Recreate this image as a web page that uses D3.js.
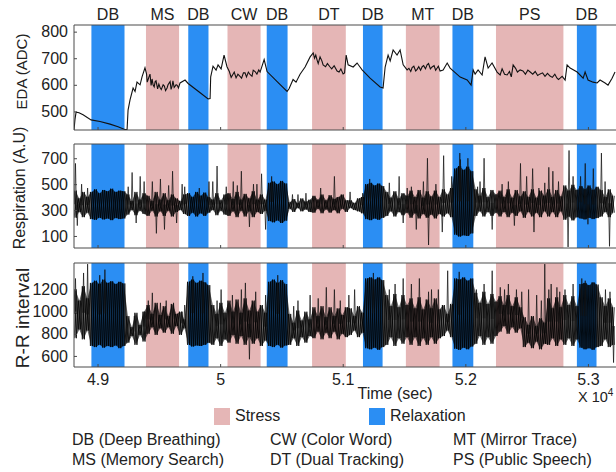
<!DOCTYPE html>
<html><head><meta charset="utf-8">
<script src="https://cdn.jsdelivr.net/npm/d3@7"></script>
<style>
html,body{margin:0;padding:0;background:#fff;}
svg{display:block;font-family:"Liberation Sans",Arial,Helvetica,sans-serif;}
</style></head>
<body><svg id="c" width="616" height="472"></svg>
<script>
// ---- data ----
const bandLabels = ["DB","MS","DB","CW","DB","DT","DB","MT","DB","PS","DB"];
const bandStart  = [48950,49395,49740,50060,50380,50750,51165,51515,51895,52250,52910];
const bandEnd    = [49220,49665,49905,50330,50550,51025,51325,51790,52065,52800,53070];
const bandType   = ["R","S","R","S","R","S","R","S","R","S","R"];

const xTicks = [49000,50000,51000,52000,53000];

const edaTicks = [500,600,700,800];
const respTicks = [100,300,500,700];
const rrTicks = [600,800,1000,1200];

const edaTime = [48808,48816,48825,48849,48882,48947,49020,49102,49167,49222,
49241,49249,49265,49290,49306,49322,49347,49363,49387,49412,
49428,49453,49477,49510,49535,49567,49592,49608,49641,49673,
49714,49739,49837,49902,49918,49923,49942,49967,49983,50008,
50032,50056,50105,50162,50203,50245,50285,50326,50359,50383,
50465,50546,50562,50595,50619,50652,50693,50734,50759,50791,
50815,50840,50897,50954,51003,51028,51044,51085,51117,51141,
51158,51223,51305,51329,51346,51370,51387,51411,51443,51468,
51493,51525,51566,51607,51648,51688,51729,51770,51794,51819,
51852,51876,51958,52015,52047,52064,52080,52104,52137,52161,
52186,52218,52259,52284,52341,52390,52447,52529,52610,52691,
52748,52773,52814,52830,52855,52912,52961,52977,53001,53042,
53075,53099,53140,53164,53197,53221];
const edaValue = [430,470,497,495,487,468,462,452,442,432,
432,505,543,588,575,610,600,630,664,619,
640,600,615,590,600,588,612,595,600,607,
618,605,570,547,548,630,670,655,675,660,
712,668,640,632,645,638,650,648,695,650,
612,575,585,620,610,640,667,705,720,693,
705,675,667,652,641,712,675,667,682,667,
656,625,592,588,667,712,690,731,712,731,
675,656,665,658,668,675,667,663,652,656,
682,663,629,618,599,656,640,656,637,705,
663,682,648,637,637,675,656,648,641,633,
625,625,618,675,663,648,625,648,618,610,
607,618,607,599,625,648];
const edaDetailTime = [49400,49405,49418,49437,49445,49462,49470,49490,49500,49520,49545,49555,49575,49600,49615,49625,49650,49660,
50075,50090,50115,50130,50145,50175,50190,50215,50230,50260,50270,50300,50315,
50770,50780,50800,50830,50860,50875,50910,50930,50970,50985,51015,
51540,51555,51580,51595,51620,51635,51660,51675,51700,51715,51745,51758,51780,
52300,52320,52360,52375,52410,52425,52470,52490,52510,52550,52570,52590,52630,52650,52670,52710,52730,52760,52790];
const edaDetailValue = [640,610,628,598,622,592,612,585,603,582,595,578,600,583,615,590,598,588,
650,628,648,626,640,625,645,630,648,632,655,640,656,
700,712,680,690,668,680,660,672,648,660,645,
662,650,670,652,668,655,672,660,680,660,672,655,670,
660,640,650,630,662,648,652,640,655,640,650,635,645,632,643,628,640,620,632];

// dense signals: per-bin upper / lower edge of the dense core (bins of binStep s from binStart)
const binStart = 48810, binStep = 33;
const respCoreHi = [450,390,440,400,
440,460,430,455,445,465,440,450,445,
420,370,440,380,430,
410,370,440,380,430,375,420,390,
370,420,
430,400,440,410,435,400,
380,430,375,420,
430,385,440,380,425,390,445,380,
420,380,
510,520,500,525,505,
360,385,355,390,365,380,
410,380,420,375,415,385,400,420,375,
375,355,390,400,
500,510,490,505,485,
440,395,445,390,430,410,
450,400,455,395,445,405,450,400,
460,420,470,
620,640,610,635,600,
460,410,470,400,455,420,
450,400,460,395,455,405,445,400,460,395,450,410,460,400,455,405,
490,450,495,455,
485,460,490,455,480,
455,400,460,410];
const respCoreLo = [240,285,245,280,
230,225,240,228,235,222,238,230,235,
265,300,260,295,270,
255,295,250,290,255,295,250,285,
300,270,
255,280,250,275,255,280,
300,260,295,265,
255,290,245,295,250,290,245,285,
270,295,
215,205,220,200,218,
310,285,315,290,305,285,
280,310,275,305,280,300,275,310,285,
315,300,290,275,
230,222,235,225,240,
255,290,250,285,260,280,
240,275,235,270,240,265,235,270,
250,275,245,
110,95,105,100,120,
255,290,250,285,255,280,
250,285,245,280,255,290,240,285,250,280,245,290,250,285,245,290,
225,250,220,245,
235,228,240,230,238,
250,285,245,280];
// isolated spikes beyond the core
const respSpikeTime = [48820,48835,48919,49282,49315,49348,49447,49480,49513,49546,49612,49645,49711,49909,49975,
50107,50173,50239,50272,50338,50371,50635,50932,51163,51460,51493,51526,51658,51691,51700,
51812,51823,51889,51955,52021,52120,52153,52219,52351,52450,52549,52560,52648,52681,52714,
52838,52846,52879,52978,53044,53110,53176,
48870,49250,49380,49580,49690,49830,49940,50050,50140,50300,50420,50590,50700,50820,51060,
51220,51380,51560,51600,51760,51960,52100,52300,52400,52500,52600,52760,52940,53000,53140];
const respSpikeValue = [660,180,470,590,200,560,520,120,540,150,600,200,480,520,640,
520,600,170,500,580,150,420,560,430,560,200,470,520,700,30,
130,720,560,740,700,520,700,150,520,660,620,130,510,630,600,
15,760,560,660,620,740,20,
500,480,520,490,500,470,520,480,490,500,560,420,430,470,440,
540,510,480,150,500,690,480,500,180,560,470,520,560,190,520];

const rrCoreHi = [1200,1100,1230,1120,
1260,1280,1250,1290,1260,1275,1250,1270,1255,
960,860,990,880,1000,
1060,980,1080,970,1050,960,1070,980,
1000,930,
1270,1290,1260,1280,1265,1240,
1060,980,1080,990,
1100,1000,1110,990,1120,1010,1100,1000,
1060,990,
1270,1290,1260,1285,1250,
980,900,1010,920,1000,930,
1040,960,1050,950,1040,960,1030,970,1040,
1030,960,1050,990,
1300,1310,1290,1310,1285,
1150,1050,1160,1040,1150,1060,
1120,1030,1130,1020,1110,1030,1120,1020,
1060,980,1070,
1300,1290,1310,1280,1300,
1170,1080,1180,1070,1160,1090,
1140,1060,1150,1050,1130,1040,950,880,960,870,940,900,1120,1030,1130,1040,
1150,1060,1140,1050,
1250,1260,1240,1265,1245,
1130,1050,1120,1040];
const rrCoreLo = [760,840,750,830,
690,680,700,675,690,680,695,670,690,
720,780,700,790,730,
800,860,790,850,810,860,800,870,
790,850,
700,685,695,690,700,720,
700,760,690,750,
720,790,710,780,700,770,710,760,
690,740,
690,680,700,675,695,
700,760,690,770,720,780,
760,820,750,810,760,820,750,800,770,
790,830,770,810,
670,660,675,655,680,
700,770,690,760,710,770,
700,770,690,760,700,770,710,760,
780,830,770,
665,655,675,660,685,
710,780,700,770,710,780,
820,870,800,860,810,850,680,720,670,730,660,710,700,760,690,750,
700,760,690,750,
675,660,670,655,680,
690,750,680,700];
const rrSpikeTime = [48820,48886,48919,49018,49381,49414,49447,49513,49711,49777,49975,50008,50173,50206,50239,
50371,50635,50734,50866,50932,51097,51427,51493,51625,51724,51856,52153,52219,52285,52351,
52417,52516,52582,52648,52681,52747,52813,52879,52978,53143,53209,
49060,49300,49560,49620,49690,49860,50100,50290,50470,50600,50800,50980,51050,51250,
51380,51560,51700,51780,51950,52090,52320,52460,52620,52700,52770,52950,53180];
const rrSpikeValue = [1300,1350,1430,1330,1000,1100,1170,1080,1060,1320,1100,1200,1200,1260,570,
1150,1100,1150,1220,1200,1200,1250,1300,1300,1200,1370,1250,1370,1220,1250,
1200,1200,1150,1430,1200,1220,1200,1250,1280,1200,540,
1380,960,1100,1080,1000,1350,1150,1180,1330,1050,1120,1100,1150,1350,
1200,1250,1180,1200,1360,1200,1200,1180,1100,1250,1180,1300,1180];

const legendRow1 = ["DB (Deep Breathing)","CW (Color Word)","MT (Mirror Trace)"];
const legendRow2 = ["MS (Memory Search)","DT (Dual Tracking)","PS (Public Speech)"];

// ---- drawing ----
const svg = d3.select("#c");
const PINK = "#e5b6b6", BLUE = "#2b8ef3", INK = "#222", FRAME = "#4a4a4a";
const FONT = '"Liberation Sans",Arial,sans-serif';
const x = d3.scaleLinear().domain([48808, 53229]).range([74, 616]);

const panels = [
  {top:25, bottom:130, domain:[430,825], ticks:edaTicks, label:"EDA (ADC)", lsize:15, lx:27, ly:71.5},
  {top:144, bottom:248, domain:[7,810], ticks:respTicks, label:"Respiration (A.U)", lsize:16, lx:25, ly:188},
  {top:263, bottom:367, domain:[500,1440], ticks:rrTicks, label:"R-R interval", lsize:19, lx:29, ly:318}
];
const bands = bandLabels.map((l,i)=>({label:l, s:bandStart[i], e:bandEnd[i], t:bandType[i]}));

panels.forEach((p,pi)=>{
  p.y = d3.scaleLinear().domain(p.domain).range([p.bottom, p.top]);
  const g = svg.append("g");
  const cid = "clip"+pi;
  svg.append("clipPath").attr("id",cid).append("rect")
    .attr("x",74).attr("y",p.top).attr("width",616-74).attr("height",p.bottom-p.top);
  g.selectAll("rect.band").data(bands).join("rect")
    .attr("x",d=>x(d.s)).attr("width",d=>x(d.e)-x(d.s))
    .attr("y",p.top).attr("height",p.bottom-p.top)
    .attr("fill",d=>d.t==="S"?PINK:BLUE);
  p.g = g.append("g").attr("clip-path",`url(#${cid})`);
});

// EDA line
const edaPts = edaTime.map((t,i)=>[t, edaValue[i]])
  .concat(edaDetailTime.map((t,i)=>[t, edaDetailValue[i]]))
  .sort((a,b)=>a[0]-b[0]);
panels[0].g.append("path")
  .attr("d", d3.line().x(d=>x(d[0])).y(d=>panels[0].y(d[1]))(edaPts))
  .attr("fill","none").attr("stroke","#111").attr("stroke-width",1.1);

// dense oscillating signal: core band + interleaved zig-zags + isolated spikes
function dense(p, hi, lo, spT, spV){
  const bins = hi.map((h,i)=>({t: binStart + i*binStep, hi:h, lo:lo[i]}));
  p.g.append("path")
    .attr("d", d3.area().x(d=>x(d.t + binStep/4)).y0(d=>p.y(d.lo)).y1(d=>p.y(d.hi))(bins))
    .attr("fill","#000").attr("fill-opacity",0.6);
  const a = [], b = [];
  bins.forEach(d=>{
    a.push([d.t, d.hi]); a.push([d.t + binStep/2, d.lo]);
    b.push([d.t, d.lo]); b.push([d.t + binStep/2, d.hi]);
  });
  const ln = d3.line().x(d=>x(d[0])).y(d=>p.y(d[1]));
  [a,b].forEach((pts,k)=>{
    p.g.append("path").attr("d", ln(pts))
      .attr("fill","none").attr("stroke","#000").attr("stroke-width",0.9)
      .attr("stroke-opacity",k===0?0.9:0.8);
  });
  const spikes = spT.map((t,i)=>{
    const bi = Math.max(0, Math.min(bins.length-1, Math.floor((t-binStart)/binStep)));
    const base = (bins[bi].hi + bins[bi].lo)/2;
    return [[t-7, base],[t, spV[i]],[t+7, base]];
  });
  p.g.selectAll("path.spike").data(spikes).join("path").attr("class","spike")
    .attr("d", d=>ln(d)).attr("fill","none").attr("stroke","#111")
    .attr("stroke-width",0.9).attr("stroke-opacity",0.8);
}
dense(panels[1], respCoreHi, respCoreLo, respSpikeTime, respSpikeValue);
dense(panels[2], rrCoreHi, rrCoreLo, rrSpikeTime, rrSpikeValue);

// frames, ticks, labels
panels.forEach((p,pi)=>{
  const g = svg.append("g");
  g.append("path").attr("d",`M640,${p.top}H74V${p.bottom}H640`)
    .attr("fill","none").attr("stroke",FRAME).attr("stroke-width",1);
  const ya = d3.axisLeft(p.y).tickValues(p.ticks).tickFormat(d3.format("d"))
    .tickSizeInner(-3).tickSizeOuter(0).tickPadding(6);
  const ag = g.append("g").attr("transform","translate(74,0)").call(ya);
  ag.select(".domain").remove();
  ag.selectAll("line").attr("stroke",FRAME);
  ag.selectAll("text").attr("font-size",16).attr("fill",INK).attr("font-family",FONT);
  const xa = d3.axisBottom(x).tickValues(xTicks).tickSizeInner(-3).tickSizeOuter(0)
    .tickFormat(d=>pi===2 ? String(d/10000) : "");
  const xg = g.append("g").attr("transform",`translate(0,${p.bottom})`).call(xa);
  xg.select(".domain").remove();
  xg.selectAll("line").attr("stroke",FRAME);
  xg.selectAll("text").attr("font-size",16).attr("fill",INK).attr("dy",null).attr("y",null)
    .attr("transform","translate(0,18)").attr("font-family",FONT);
  svg.append("text").attr("transform",`translate(${p.lx},${p.ly}) rotate(-90)`)
    .attr("text-anchor","middle").attr("font-size",p.lsize).attr("fill",INK)
    .text(p.label);
});

// band labels on top
svg.append("g").selectAll("text").data(bands).join("text")
  .attr("x",d=>x((d.s+d.e)/2)).attr("y",20).attr("text-anchor","middle")
  .attr("font-size",16).attr("fill",INK).text(d=>d.label);

// axis title and exponent
svg.append("text").attr("x",395).attr("y",399).attr("text-anchor","middle")
  .attr("font-size",16).attr("fill",INK).text("Time (sec)");
const ex = svg.append("text").attr("x",578).attr("y",402).attr("font-size",14.5).attr("fill",INK);
ex.append("tspan").text("X 10");
ex.append("tspan").attr("font-size",10).attr("dy",-6).text("4");

// legend
const leg = [{c:PINK,l:"Stress",x:214},{c:BLUE,l:"Relaxation",x:369}];
leg.forEach(d=>{
  svg.append("rect").attr("x",d.x).attr("y",408).attr("width",16).attr("height",17).attr("fill",d.c);
  svg.append("text").attr("x",d.x+21).attr("y",421).attr("font-size",16).attr("fill",INK).text(d.l);
});
const colX = [72,270,453];
legendRow1.forEach((t,i)=>svg.append("text").attr("x",colX[i]).attr("y",445).attr("font-size",16).attr("fill",INK).text(t));
legendRow2.forEach((t,i)=>svg.append("text").attr("x",colX[i]).attr("y",465).attr("font-size",16).attr("fill",INK).text(t));
</script></body></html>
